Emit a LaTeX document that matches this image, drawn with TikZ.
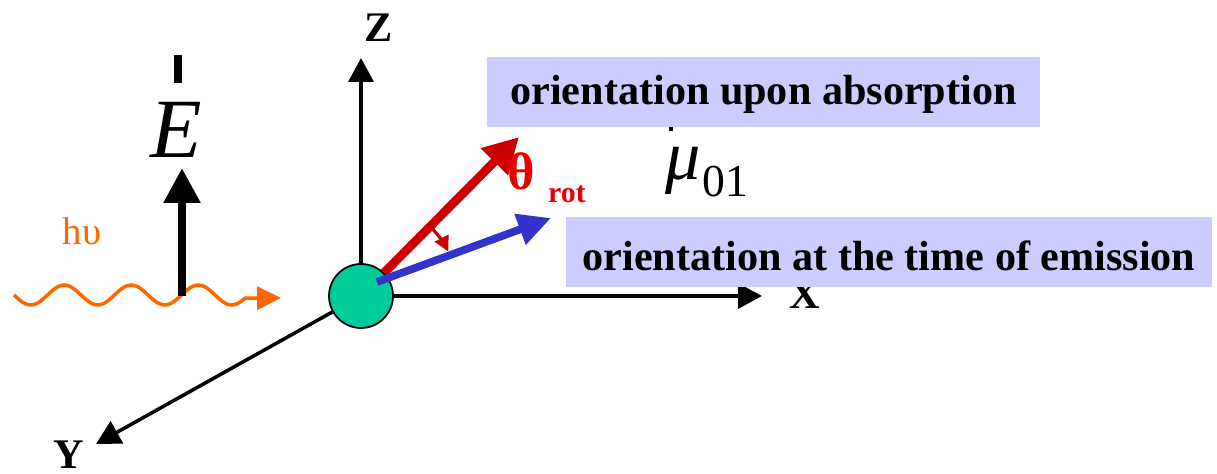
\documentclass[tikz,border=0pt]{standalone}
\usepackage{fontspec}
\setmainfont{Liberation Serif}
\usetikzlibrary{arrows.meta}
\definecolor{boxlila}{RGB}{204,204,255}
\definecolor{atomgreen}{RGB}{0,204,153}
\definecolor{absred}{RGB}{204,0,0}
\definecolor{thetared}{RGB}{235,0,0}
\definecolor{emblue}{RGB}{51,51,204}
\definecolor{photonorange}{RGB}{255,102,0}
\begin{document}
\begin{tikzpicture}[x=0.1mm, y=-0.1mm,
			>=latex,   %Voreinstellung fuer Pfeilspitzen
			axis/.style={draw, line width=1pt, -{Triangle[length=2.4mm, width=2.5mm]}},
			axlabel/.style={anchor=base, font=\fontsize{12}{14}\selectfont\bfseries},
			lila/.style={fill=boxlila, inner sep=0pt, font=\fontsize{12}{14}\selectfont\bfseries}]
			\useasboundingbox (0,0) rectangle (1217,474); %Bildbereich
			% Atom und Achsen
			\node[circle, draw, fill=atomgreen, minimum size=6.4mm, inner sep=0pt, line width=0.5pt] (atom) at (361,296) {};
			\coordinate (zTip) at (361,58);
			\coordinate (xTip) at (762,296);
			\coordinate (yTip) at (96,444);
			\draw[axis] (atom) -- (zTip);
			\draw[axis] (atom) -- (xTip);
			\draw[axis] (atom) -- (yTip);
			% Achsen beschriften
			\node[axlabel] (zLabel) at (379,42) {Z};
			\node[axlabel] (xLabel) at (805,309) {X};
			\node[axlabel] (yLabel) at (69,469) {Y};
			% Photon
			\coordinate (waveEnd) at (281,298);
			\draw[photonorange, line width=1pt, -{Triangle[length=2.4mm, width=2.3mm]}]
				plot[smooth, domain=14:245, samples=60] (\x,{295+10*sin((\x-14)*5.373)}) -- (waveEnd);
			\node[anchor=base, text=photonorange, font=\fontsize{11}{12}\selectfont] (hnu) at (82,245) {hυ};
			% Feldvektor E
			\coordinate (eFoot) at (182,296);
			\coordinate (eTip) at (182,168);
			\draw[line width=2.4pt, -{Triangle[length=3.5mm, width=3.5mm]}] (eFoot) -- (eTip);
			\node[anchor=base, font=\fontsize{24}{24}\selectfont\itshape] (eLabel) at (176,158) {E};
			\draw[line width=2.5pt] (178,55) -- (178,83);
			% mu_01
			\draw[line width=1pt] (671,116) -- (671,131);
			\node[anchor=base, font=\fontsize{20}{20}\selectfont\itshape] (mu) at (683,180) {μ};
			\node[anchor=base, font=\fontsize{13}{13}\selectfont] (muIdx) at (725,197) {01};
			% Kaesten
			\node[lila, minimum width=55.3mm, text height=4.8mm, text depth=2.2mm, anchor=base] (absBox) at (763.5,105) {orientation upon absorption};
			\node[lila, minimum width=64.6mm, text height=5.4mm, text depth=1.6mm, anchor=base] (emBox) at (889,271) {orientation at the time of emission};
			% Dipolvektoren
			\coordinate (redTip) at (519,137);
			\coordinate (blueFoot) at (377,282);
			\coordinate (blueTip) at (551,218);
			\draw[absred, line width=2.5pt, -{Triangle[length=3.5mm, width=3.6mm]}] (atom) -- (redTip);
			\draw[emblue, line width=2.2pt, -{Triangle[length=3.3mm, width=3.1mm]}] (blueFoot) -- (blueTip);
			\draw[absred, line width=0.9pt, -{Triangle[length=1.5mm, width=1.5mm]}]
				([shift={(-43:98)}]atom.center) arc[start angle=-43, end angle=-27, radius=98];
			% Winkel
			\node[anchor=base, text=thetared, font=\fontsize{15}{15}\selectfont\bfseries] (theta) at (521,190) {θ};
			\node[anchor=base, text=thetared, font=\fontsize{8.5}{9}\selectfont\bfseries] (rot) at (567,203) {rot};
		\end{tikzpicture}
\end{document}
